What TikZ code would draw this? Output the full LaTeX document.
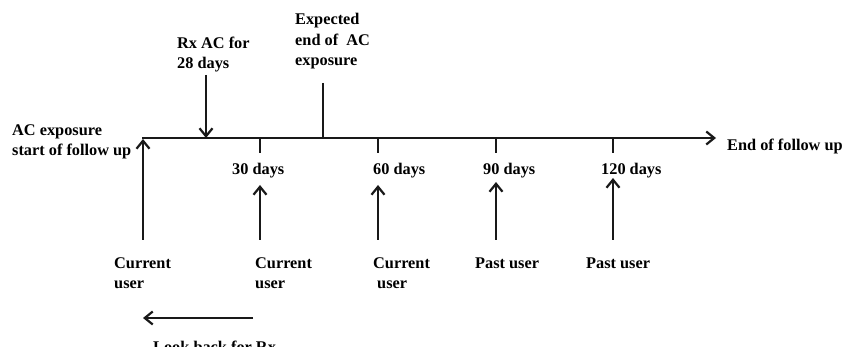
\documentclass[tikz,border=0pt]{standalone}
\usepackage{fontspec}
\setmainfont{Liberation Serif}
\usetikzlibrary{arrows.meta}
\begin{document}
\begin{tikzpicture}[x=1pt,y=-1pt,
  lbl/.style={anchor=base west,inner sep=0pt,align=left,font=\fontsize{16.3}{20.5}\selectfont\bfseries},
  ln/.style={line width=2.2pt,draw=black!90},
  arr/.style={ln,-{Straight Barb[length=8pt,width=13pt,line width=2.2pt]}}]
\useasboundingbox[fill=white] (0,0) rectangle (843,347);
% axis
\coordinate (axS) at (142,138);
\coordinate (axE) at (716,138);
\draw[arr] (axS) -- (axE);
% ticks
\foreach \n/\x in {t30/260,t60/378,t90/496,t120/613}{
  \coordinate (\n) at (\x,138);
  \coordinate (\n b) at (\x,153);
  \draw[ln] (\n) -- (\n b);
}
% expected end line
\coordinate (expT) at (323,83);
\coordinate (expB) at (323,138);
\draw[ln] (expT) -- (expB);
% Rx arrow
\coordinate (rxT) at (206,75);
\coordinate (rxB) at (206,138);
\draw[arr] (rxT) -- (rxB);
% labels top (base = last line)
\node[lbl] (rx) at (177,69) {Rx AC for\\28 days};
\node[lbl] (expct) at (295,66) {Expected\\end of~~AC\\exposure};
\node[lbl] (start) at (12,156) {AC exposure\\start of follow up};
\node[lbl] (endf) at (727,151) {End of follow up};
\node[lbl] (d30) at (232,175) {30 days};
\node[lbl] (d60) at (373,175) {60 days};
\node[lbl] (d90) at (483,175) {90 days};
\node[lbl] (d120) at (601,175) {120 days};
% vertical user arrows
\foreach \n/\x/\t in {u0/143/139,u1/260/185,u2/378/185,u3/496/182,u4/613/178}{
  \coordinate (\n b) at (\x,240);
  \coordinate (\n t) at (\x,\t);
  \draw[arr] (\n b) -- (\n t);
}
\node[lbl] (cu1) at (114,289) {Current\\user};
\node[lbl] (cu2) at (255,289) {Current\\user};
\node[lbl] (cu3) at (373,289) {Current\\\hspace*{4pt}user};
\node[lbl] (pu1) at (475,269) {Past user};
\node[lbl] (pu2) at (586,269) {Past user};
% look back
\coordinate (lbR) at (253,318);
\coordinate (lbL) at (143,318);
\draw[arr] (lbR) -- (lbL);
\node[lbl] (lb) at (153,352) {Look back for Rx};
\end{tikzpicture}
\end{document}
